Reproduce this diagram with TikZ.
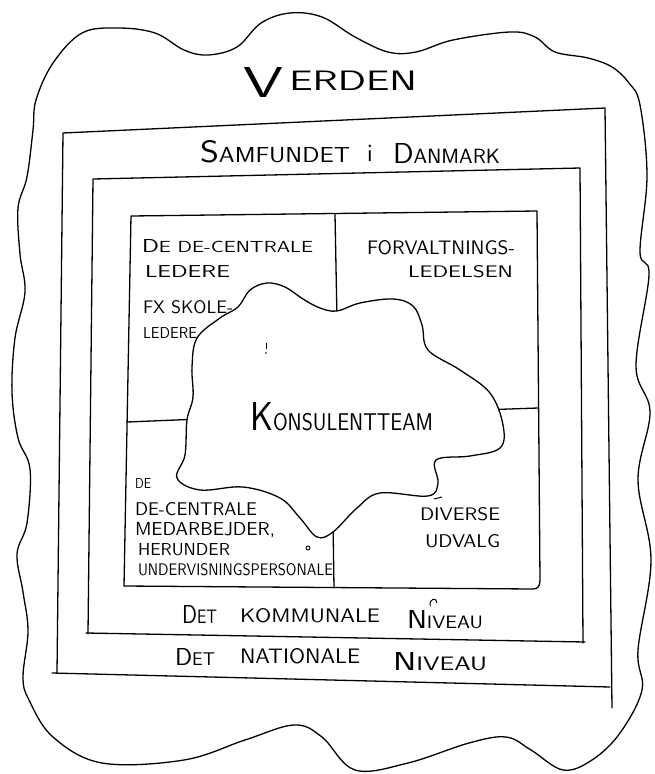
\documentclass[tikz,border=0pt]{standalone}
\usepackage{graphicx}
\newcommand\hwsize[1]{\fontsize{#1}{#1}\selectfont}
\newcommand\hwtext[3]{\resizebox{#1}{#2}{\sffamily #3}}
\begin{document}
\begin{tikzpicture}[x=1pt,y=-1pt,
  pen/.style={line width=1.3pt,line cap=round,line join=round,draw=black},
  lbl/.style={inner sep=0pt,outer sep=0pt,anchor=base west}]
\useasboundingbox (0,0) rectangle (654,774);
\fill[white] (0,0) rectangle (654,774);
% ---- outer wavy border (Verden)
\draw[pen] plot[smooth cycle,tension=0.6] coordinates {
 (33,130) (36,100) (53,63) (82,33) (118,28) (155,33) (184,50) (208,55) (237,47)
 (261,23) (290,13) (322,17) (355,37) (388,52) (416,52) (453,40) (510,32) (535,37)
 (555,52) (588,58) (612,67) (629,83) (640,105) (647,176) (640,252) (649,275)
 (636,366) (650,412) (638,480) (651,560) (638,650) (642,690) (620,733) (592,760)
 (563,770) (531,750) (506,737) (469,743) (408,763) (355,770) (322,737) (294,725)
 (245,740) (184,760) (102,763) (53,737) (29,700) (23,677) (28,631) (23,592)
 (17,554) (27,523) (30,469) (18,438) (12,392) (15,338) (25,292) (20,254) (18,208) (27,177)};
% ---- box 2 (Samfundet i Danmark / nationale niveau)
\draw[pen] (57,673) -- (63,133) -- (605,108) -- (612,708);
\draw[pen] (52,673) -- (610,687);
% ---- box 3 (kommunale niveau)
\draw[pen] (88,634) -- (93,179) -- (580,168) -- (583,643);
\draw[pen] (86,633) -- (585,642);
% ---- inner grid
\draw[pen] (124,586) -- (131,216) -- (537,211) -- (540,580) .. controls (540,586) and (538,589) .. (533,589) -- cycle;
\draw[pen] (335,214) -- (337,320);
\draw[pen] (333,520) -- (334,588);
\draw[pen] (127,422) -- (200,419);
\draw[pen] (480,410) -- (538,408);
% ---- cloud (Konsulentteam)
\draw[pen,fill=white] plot[smooth cycle,tension=0.6] coordinates {
 (267,283) (285,287) (303,299) (320,308) (337,311) (360,303) (393,299) (413,306)
 (422,325) (428,350) (460,370) (490,393) (503,425) (500,448) (470,456) (436,460)
 (438,483) (428,496) (380,493) (357,508) (333,532) (317,537) (300,518) (280,498)
 (243,487) (200,490) (177,478) (185,455) (187,420) (193,397) (192,367) (197,338)
 (220,318) (238,307) (250,290)};
% small marks
\draw[line width=0.9pt] (266,343) -- (266,349);
\fill (266,353) circle (0.8);
\draw[line width=0.9pt] (308,548) circle (2);
\draw[line width=1pt] (434,499) -- (442,497);
\draw[line width=1pt] (430,606) .. controls (429,598) and (437,597) .. (437,603);
% ---- texts
\node[lbl] (verden) at (243,97) {\hwtext{174pt}{30pt}{\hwsize{40}V\hspace{4pt}\raisebox{6pt}{\hwsize{26}ERDEN}}};
\node[lbl] (samf) at (200,162) {\hwtext{150pt}{22pt}{\hwsize{30}S\hwsize{21}AMFUNDET}};
\node[lbl] (samfi) at (367,161) {\sffamily\hwsize{25}i};
\node[lbl] (danm) at (393,163) {\hwtext{107pt}{20pt}{\hwsize{28}D\hwsize{20}ANMARK}};
\node[lbl] (tl1) at (142,252) {\hwtext{171pt}{13pt}{\hwsize{14}D\hwsize{12}E DE-CENTRALE}};
\node[lbl] (tl2) at (145,277) {\hwtext{85pt}{12pt}{LEDERE}};
\node[lbl] (tl3) at (143,313) {\hwtext{90pt}{13pt}{FX SKOLE-}};
\node[lbl] (tl4) at (143,338) {\hwtext{54pt}{11pt}{LEDERE}};
\node[lbl] (tr1) at (367,254) {\hwtext{148pt}{14pt}{FORVALTNINGS-}};
\node[lbl] (tr2) at (408,277) {\hwtext{105pt}{12pt}{LEDELSEN}};
\node[lbl] (bl1) at (135,488) {\hwtext{16pt}{10pt}{DE}};
\node[lbl] (bl2) at (135,515) {\hwtext{122pt}{13pt}{DE-CENTRALE}};
\node[lbl] (bl3) at (135,535) {\hwtext{140pt}{13pt}{MEDARBEJDER,}};
\node[lbl] (bl4) at (138,555) {\hwtext{92pt}{12pt}{HERUNDER}};
\node[lbl] (bl5) at (138,575) {\hwtext{195pt}{12pt}{UNDERVISNINGSPERSONALE}};
\node[lbl] (br1) at (420,520) {\hwtext{80pt}{13pt}{DIVERSE}};
\node[lbl] (br2) at (425,547) {\hwtext{75pt}{13pt}{UDVALG}};
\node[lbl] (kons) at (250,430) {\hwtext{183pt}{28pt}{\hwsize{40}K\hwsize{24}ONSULENTTEAM}};
\node[lbl] (kom1) at (182,623) {\hwtext{35pt}{18pt}{\hwsize{24}D\hwsize{18}ET}};
\node[lbl] (kom2) at (240,622) {\hwtext{140pt}{14pt}{KOMMUNALE}};
\node[lbl] (kom3) at (407,628) {\hwtext{76pt}{18pt}{\hwsize{26}N\hwsize{18}IVEAU}};
\node[lbl] (nat1) at (175,665) {\hwtext{40pt}{17pt}{\hwsize{24}D\hwsize{18}ET}};
\node[lbl] (nat2) at (240,663) {\hwtext{120pt}{15pt}{NATIONALE}};
\node[lbl] (nat3) at (393,670) {\hwtext{94pt}{18pt}{\hwsize{24}N\hwsize{18}IVEAU}};
\end{tikzpicture}
\end{document}
